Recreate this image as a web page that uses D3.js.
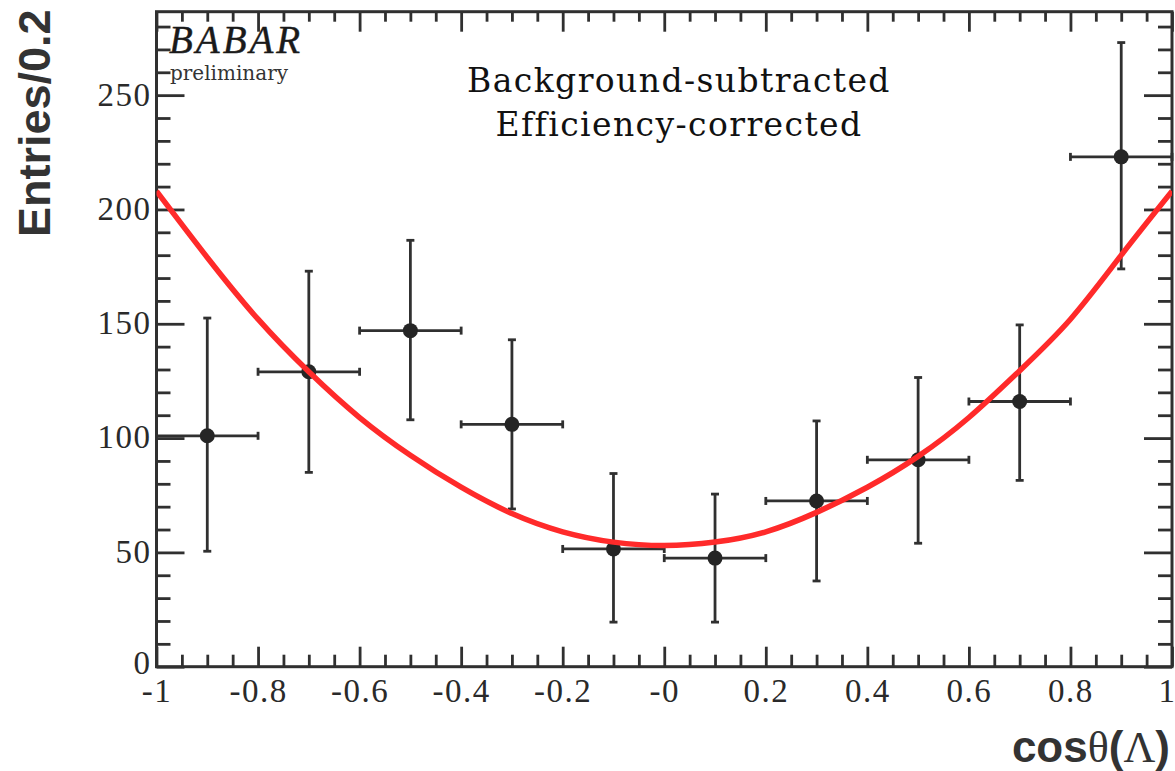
<!DOCTYPE html>
<html><head><meta charset="utf-8">
<script src="https://cdn.jsdelivr.net/npm/d3@7"></script>
<style>body{margin:0;background:#fff}svg{display:block}</style>
</head><body><svg id="c" width="1175" height="771"></svg>
<script>
// ---- data ----
const binCenters = [-0.9, -0.7, -0.5, -0.3, -0.1, 0.1, 0.3, 0.5, 0.7, 0.9];
const binHalfWidth = 0.1;
const entries = [101, 129, 147, 106, 51.5, 47.5, 72.5, 90.5, 116, 223];
const errHigh = [152.5, 173, 186.5, 143, 84.5, 75.5, 107.5, 126.5, 149.5, 273];
const errLow  = [50.5, 85, 108, 69, 19.5, 19.5, 37.5, 54, 81.5, 174];
const fitX = [-1, -0.9, -0.8, -0.7, -0.6, -0.5, -0.4, -0.3, -0.2, -0.1, 0, 0.1, 0.2, 0.3, 0.4, 0.5, 0.6, 0.7, 0.8, 0.9, 1];
const fitY = [208, 179, 152, 129, 109, 92.5, 78.5, 67, 59, 54.5, 53, 54.5, 59, 67.5, 78.5, 92, 109, 129.5, 152, 180, 208];
const xTickValues = [-1, -0.8, -0.6, -0.4, -0.2, 0, 0.2, 0.4, 0.6, 0.8, 1];
const xTickLabels = ["-1", "-0.8", "-0.6", "-0.4", "-0.2", "-0", "0.2", "0.4", "0.6", "0.8", "1"];
const yTickValues = [0, 50, 100, 150, 200, 250];
const yTickLabels = ["0", "50", "100", "150", "200", "250"];
const xDomain = [-1, 1];
const yDomain = [0, 286.5];

// ---- layout ----
const L = 156.5, R = 1172, T = 11.7, B = 666.7;
const ink = "#303030";
const svg = d3.select("#c");
svg.append("rect").attr("width", 1175).attr("height", 771).attr("fill", "#fff");

const x = d3.scaleLinear().domain(xDomain).range([L, R]);
const y = d3.scaleLinear().domain(yDomain).range([B, T]);

const xMinor = d3.range(-1, 1.0001, 0.05).map(v => +v.toFixed(2)).filter(v => !xTickValues.some(t => Math.abs(t - v) < 1e-6));
const yMinor = d3.range(0, 286, 10).filter(v => !yTickValues.includes(v));

function styleAxis(g) {
  g.select(".domain").remove();
  g.selectAll(".tick line").attr("stroke", ink).attr("stroke-width", 2.8);
  g.selectAll("text").attr("fill", "#2a2a2a").attr("font-family", "'Liberation Serif', serif")
    .attr("font-size", 33).attr("letter-spacing", 1.5);
}

// bottom
svg.append("g").attr("transform", `translate(0,${B})`)
  .call(d3.axisBottom(x).tickValues(xTickValues).tickFormat((d, i) => xTickLabels[i]).tickSizeInner(-20).tickSizeOuter(0).tickPadding(12))
  .call(styleAxis)
  .call(g => g.selectAll("text").filter(d => d === 1).attr("dx", -5));
svg.append("g").attr("transform", `translate(0,${B})`)
  .call(d3.axisBottom(x).tickValues(xMinor).tickFormat("").tickSizeInner(-12).tickSizeOuter(0))
  .call(styleAxis);
// top
svg.append("g").attr("transform", `translate(0,${T})`)
  .call(d3.axisTop(x).tickValues(xTickValues).tickFormat("").tickSizeInner(-20).tickSizeOuter(0))
  .call(styleAxis);
svg.append("g").attr("transform", `translate(0,${T})`)
  .call(d3.axisTop(x).tickValues(xMinor).tickFormat("").tickSizeInner(-10).tickSizeOuter(0))
  .call(styleAxis);
// left
svg.append("g").attr("transform", `translate(${L},0)`)
  .call(d3.axisLeft(y).tickValues(yTickValues).tickFormat((d, i) => yTickLabels[i]).tickSizeInner(-28).tickSizeOuter(0).tickPadding(5))
  .call(styleAxis)
  .call(g => g.selectAll("text").attr("dy", "0.3em").filter(d => d === 0).attr("dy", "0.2em"));
svg.append("g").attr("transform", `translate(${L},0)`)
  .call(d3.axisLeft(y).tickValues(yMinor).tickFormat("").tickSizeInner(-14).tickSizeOuter(0))
  .call(styleAxis);
// right
svg.append("g").attr("transform", `translate(${R},0)`)
  .call(d3.axisRight(y).tickValues(yTickValues).tickFormat("").tickSizeInner(-28).tickSizeOuter(0))
  .call(styleAxis);
svg.append("g").attr("transform", `translate(${R},0)`)
  .call(d3.axisRight(y).tickValues(yMinor).tickFormat("").tickSizeInner(-14).tickSizeOuter(0))
  .call(styleAxis);

// frame
svg.append("rect").attr("x", L).attr("y", T).attr("width", R - L).attr("height", B - T)
  .attr("fill", "none").attr("stroke", ink).attr("stroke-width", 3);

// clip
svg.append("clipPath").attr("id", "clip").append("rect")
  .attr("x", L).attr("y", T).attr("width", R - L).attr("height", B - T);

// data points with error bars
const pts = binCenters.map((c, i) => ({c, v: entries[i], hi: errHigh[i], lo: errLow[i]}));
const eb = svg.append("g").attr("stroke", ink).attr("stroke-width", 2.8).attr("fill", "none");
pts.forEach(p => {
  const cx = x(p.c);
  eb.append("line").attr("x1", cx).attr("x2", cx).attr("y1", y(p.lo)).attr("y2", y(p.hi));
  eb.append("line").attr("x1", cx - 4).attr("x2", cx + 4).attr("y1", y(p.lo)).attr("y2", y(p.lo));
  eb.append("line").attr("x1", cx - 4).attr("x2", cx + 4).attr("y1", y(p.hi)).attr("y2", y(p.hi));
  const xl = x(p.c - binHalfWidth), xr = x(p.c + binHalfWidth), cy = y(p.v);
  eb.append("line").attr("x1", xl).attr("x2", xr).attr("y1", cy).attr("y2", cy);
  eb.append("line").attr("x1", xl).attr("x2", xl).attr("y1", cy - 4).attr("y2", cy + 4);
  eb.append("line").attr("x1", xr).attr("x2", xr).attr("y1", cy - 4).attr("y2", cy + 4);
});
svg.append("g").selectAll("circle").data(pts).join("circle")
  .attr("cx", d => x(d.c)).attr("cy", d => y(d.v)).attr("r", 7.5).attr("fill", "#252525");

// fit curve
const fit = fitX.map((v, i) => [v, fitY[i]]);
svg.append("path").datum(fit)
  .attr("clip-path", "url(#clip)")
  .attr("d", d3.line().x(d => x(d[0])).y(d => y(d[1])).curve(d3.curveNatural))
  .attr("fill", "none").attr("stroke", "#ff2a2a").attr("stroke-width", 5.5);

// labels in plot
const note = svg.append("text").attr("font-family", "'DejaVu Serif', serif").attr("font-size", 33)
  .attr("letter-spacing", 1.4).attr("fill", "#111").attr("text-anchor", "middle");
note.append("tspan").attr("x", 679).attr("y", 92).text("Background-subtracted");
note.append("tspan").attr("x", 679).attr("y", 136).text("Efficiency-corrected");

svg.append("text").attr("x", 169).attr("y", 53)
  .attr("font-family", "'Liberation Serif', serif").attr("font-style", "italic").attr("font-size", 39)
  .attr("letter-spacing", 3).attr("fill", "#1a1a1a").attr("stroke", "#1a1a1a").attr("stroke-width", 0.4).text("BABAR");
svg.append("text").attr("x", 170).attr("y", 80)
  .attr("font-family", "'DejaVu Serif', serif").attr("font-size", 20).attr("fill", "#333").text("preliminary");

// axis titles
svg.append("text").attr("transform", "translate(50,237) rotate(-90)")
  .attr("font-family", "'Liberation Sans', Arial, sans-serif").attr("font-weight", "bold").attr("font-size", 45)
  .attr("fill", "#333").text("Entries/0.2");

const xt = svg.append("text").attr("x", 1170).attr("y", 762).attr("text-anchor", "end")
  .attr("font-family", "'Liberation Sans', Arial, sans-serif").attr("font-weight", "bold").attr("font-size", 44).attr("fill", "#333");
xt.append("tspan").text("cos");
xt.append("tspan").attr("font-family", "'Liberation Serif', serif").attr("font-weight", "normal").text("θ");
xt.append("tspan").text("(");
xt.append("tspan").attr("font-family", "'Liberation Serif', serif").attr("font-weight", "normal").text("Λ");
xt.append("tspan").text(")");
</script>
</body></html>
